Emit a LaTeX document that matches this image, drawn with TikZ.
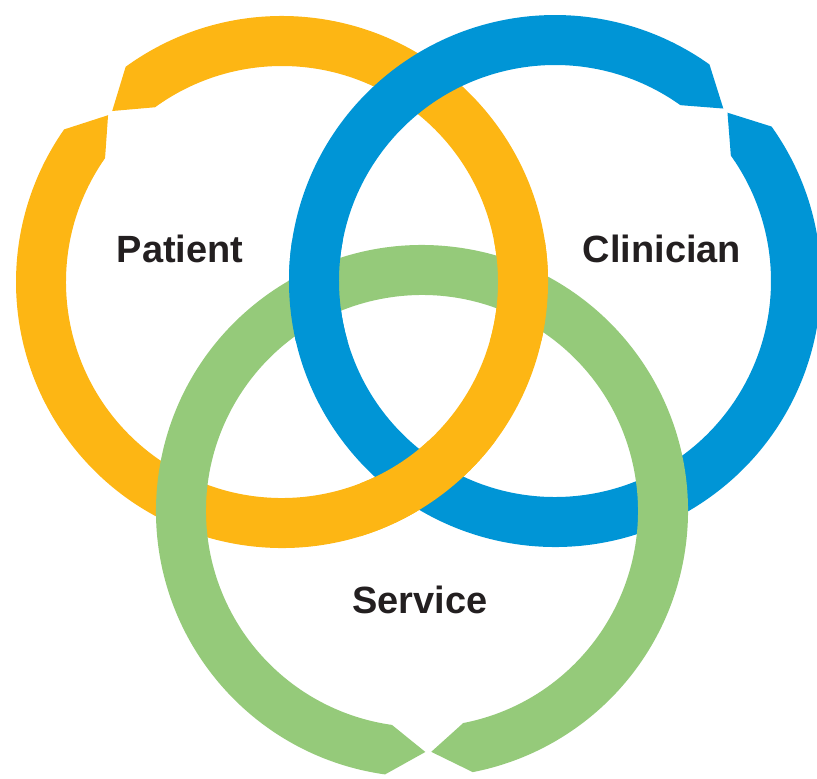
\documentclass[tikz,border=0pt]{standalone}
\usepackage{fontspec}
\setmainfont{Liberation Sans}
\definecolor{ringorange}{RGB}{253,182,20}
\definecolor{ringblue}{RGB}{0,149,214}
\definecolor{ringgreen}{RGB}{149,202,122}
\definecolor{labelink}{RGB}{35,31,32}

% ring radii (cm)
\newcommand{\ringout}{2.66}
\newcommand{\ringin}{2.16}
\newcommand{\ringmid}{2.41}

% notched ring: #1 centre, #2 angle of the notch, #3 style
\newcommand{\notchring}[3]{%
  \fill[#3, shift={(#1)}] ({#2-9.5}:\ringout)
    arc[start angle={#2-9.5}, end angle={#2+9.5-360}, radius=\ringout]
    -- ({#2+0.7}:\ringmid) -- ({#2+9.5}:\ringin)
    arc[start angle={#2+9.5-360}, end angle={#2-9.5}, radius=\ringin]
    -- ({#2-0.7}:\ringmid) -- cycle;}

\begin{document}
\begin{tikzpicture}[
   patientring/.style={fill=ringorange},
   clinicianring/.style={fill=ringblue},
   servicering/.style={fill=ringgreen},
   ringlabel/.style={font=\fontsize{10.8}{13}\selectfont\bfseries, text=labelink, anchor=base}]

 \useasboundingbox (0,0) rectangle (8.17,7.78);

 \coordinate (patient) at (2.82,4.96);
 \coordinate (clinician) at (5.55,4.97);
 \coordinate (service) at (4.22,2.67);

 \notchring{patient}{135.5}{patientring}
 \notchring{clinician}{45}{clinicianring}
 \notchring{service}{-88.5}{servicering}

 % weave: put the under-crossings back on top
 \begin{scope}
  \clip (4.70,4.38) rectangle (5.60,5.38);
  \notchring{patient}{135.5}{patientring}
 \end{scope}
 \begin{scope}
  \clip (3.60,2.18) rectangle (5.00,3.38);
  \notchring{patient}{135.5}{patientring}
 \end{scope}
 \begin{scope}
  \clip (2.80,4.38) rectangle (3.60,5.38);
  \notchring{clinician}{45}{clinicianring}
 \end{scope}

 \node[ringlabel] (patientlabel) at (1.80,5.16) {Patient};
 \node[ringlabel] (clinicianlabel) at (6.62,5.16) {Clinician};
 \node[ringlabel] (servicelabel) at (4.20,1.65) {Service};
\end{tikzpicture}
\end{document}
